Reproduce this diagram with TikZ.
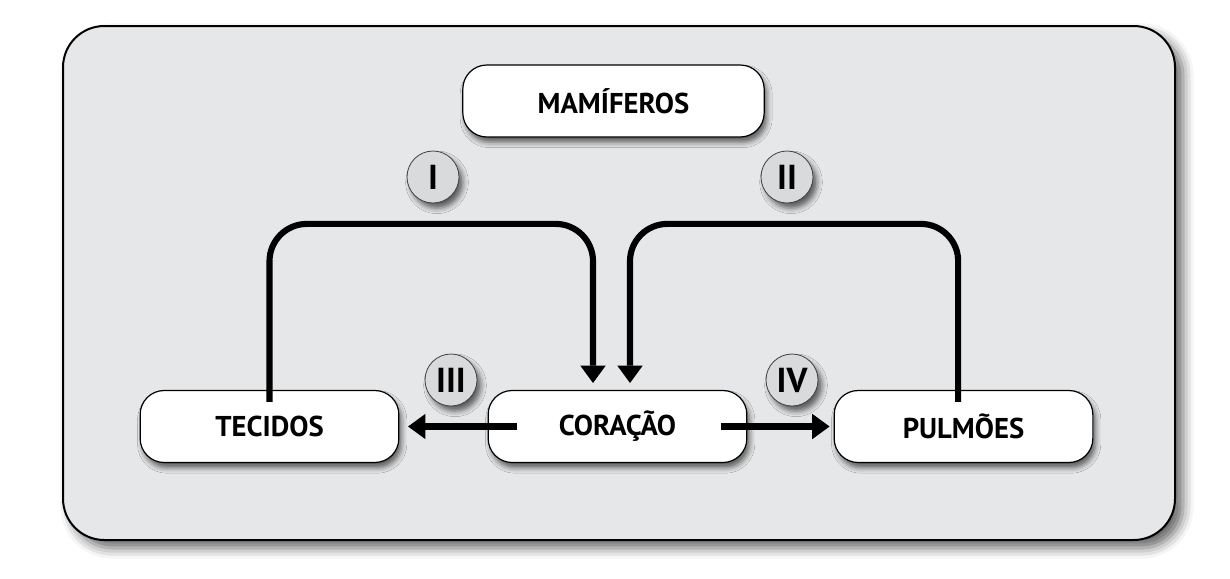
\documentclass[tikz,border=0pt]{standalone}
\usepackage{fontspec}
\setmainfont{PT Sans}
\usetikzlibrary{arrows.meta,shadows.blur}
\definecolor{panelgray}{HTML}{E6E7E8}
\definecolor{badgegray}{HTML}{D9DADC}
\tikzstyle{panel}=[draw=black, line width=1.5pt, fill=panelgray, rounded corners=31pt, blur shadow={shadow xshift=6pt, shadow yshift=-6pt, shadow blur radius=8pt, shadow opacity=60}]
\tikzstyle{organ}=[draw=black, line width=0.9pt, fill=white, rounded corners=18pt, minimum width=194pt, minimum height=54pt, font=\fontsize{21.5}{24}\selectfont\bfseries, blur shadow={shadow xshift=2pt, shadow yshift=-4pt, shadow blur radius=4pt, shadow opacity=60}]
\tikzstyle{wide organ}=[organ, minimum width=226pt]
\tikzstyle{badge}=[circle, draw=black!75, line width=0.6pt, fill=badgegray, minimum size=39pt, inner sep=0pt, font=\fontsize{26}{28}\selectfont\bfseries, blur shadow={shadow xshift=3pt, shadow yshift=-4pt, shadow blur radius=4pt, shadow opacity=60}]
\tikzstyle{flow}=[draw, line width=4.6pt, -{Triangle[length=13pt,width=19pt,line width=0pt,fill=black]}]
\tikzstyle{return line}=[flow, rounded corners=28pt]

\begin{document}
\begin{tikzpicture}[x=0.75pt, y=-0.75pt]
    % keep the page at the size of the reference
    \useasboundingbox (0,0) rectangle (1230,578);
    % Draw the grey panel first
    \draw[panel] (63,26) rectangle (1175,540);

    % Then the boxes
    \node[wide organ] (MAM) at (613.5,101) {MAMÍFEROS};
    \foreach \pos/\name/\text in {{(269.5,426.5)/TEC/TECIDOS}, {(617.5,426.5)/COR/CORAÇÃO}, {(963.5,426.5)/PUL/PULMÕES}}
        \node[organ] (\name) at \pos {\text};

    % numbered badges
    \foreach \pos/\name/\num in {{(433,177)/B1/I}, {(787,177)/B2/II}, {(451,380)/B3/III}, {(792,380)/B4/IV}}
        \node[badge] (\name) at \pos {\num};

    % Connect boxes with arrows
    \coordinate (in1) at (593,383);
    \coordinate (in2) at (630,383);
    \draw[return line] ([yshift=-9pt]TEC.north) -- ++(0,-178) -| (in1);
    \draw[return line] ([xshift=-4pt,yshift=-9pt]PUL.north) -- ++(0,-178) -| (in2);
    \draw[flow, shorten >=6.5pt] ([xshift=22pt]COR.west) -- (TEC.east);
    \draw[flow, shorten >=3pt] ([xshift=-20pt]COR.east) -- (PUL.west);
\end{tikzpicture}
\end{document}
